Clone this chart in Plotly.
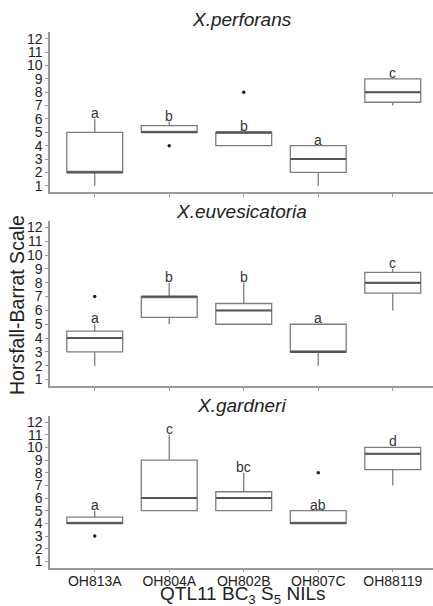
import plotly.graph_objects as go

categories = ["OH813A", "OH804A", "OH802B", "OH807C", "OH88119"]
panels = ["X.perforans", "X.euvesicatoria", "X.gardneri"]

# per panel: q1, median, q3, lower whisker, upper whisker
q1 = [[2, 5, 4, 2, 7.25], [3, 5.5, 5, 3, 7.25], [4, 5, 5, 4, 8.25]]
med = [[2, 5, 5, 3, 8], [4, 7, 6, 3, 8], [4, 6, 6, 4, 9.5]]
q3 = [[5, 5.5, 5, 4, 9], [4.5, 7, 6.5, 5, 8.75], [4.5, 9, 6.5, 5, 10]]
lo = [[1, 5, 4, 1, 7], [2, 5, 5, 2, 6], [4, 5, 5, 4, 7]]
hi = [[6, 5.8, 5, 4, 9], [5, 8, 8, 5, 9], [5, 11, 8, 5, 10]]
# outliers: (category index, value)
outliers = [[(1, 4), (2, 8)], [(0, 7)], [(0, 3), (3, 8)]]
letters = [["a", "b", "b", "a", "c"], ["a", "b", "b", "a", "c"], ["a", "c", "bc", "ab", "d"]]

yticks = list(range(1, 13))

H = 606.0
def py(px):
    return 1 - px / H

domains = [[py(191.7), py(30.3)], [py(387), py(220)], [py(569.4), py(416.6)]]
title_px = [18, 211, 406]

FONT = "Liberation Sans, Arial, sans-serif"
AX = "#9a9a9a"
BOXW = 0.75

fig = go.Figure()
idx = list(range(len(categories)))
for p in range(3):
    xa = "x" if p == 0 else f"x{p+1}"
    ya = "y" if p == 0 else f"y{p+1}"
    fig.add_trace(go.Box(
        x=idx, q1=q1[p], median=med[p], q3=q3[p],
        lowerfence=lo[p], upperfence=hi[p],
        width=BOXW, fillcolor="white",
        line=dict(color="#7d7d7d", width=1.3),
        whiskerwidth=0, boxpoints=False, showlegend=False,
        xaxis=xa, yaxis=ya, hoverinfo="skip",
    ))
    # darker median lines
    mx, my = [], []
    for i, m in zip(idx, med[p]):
        mx += [i - BOXW / 2, i + BOXW / 2, None]
        my += [m, m, None]
    fig.add_trace(go.Scatter(x=mx, y=my, mode="lines",
                             line=dict(color="#555555", width=2),
                             showlegend=False, xaxis=xa, yaxis=ya, hoverinfo="skip"))
    if outliers[p]:
        fig.add_trace(go.Scatter(x=[o[0] for o in outliers[p]], y=[o[1] for o in outliers[p]],
                                 mode="markers", marker=dict(color="#222222", size=3.5),
                                 showlegend=False, xaxis=xa, yaxis=ya, hoverinfo="skip"))
    for i, (lt, h) in enumerate(zip(letters[p], hi[p])):
        fig.add_annotation(x=i, y=h, xref=xa, yref=ya, text=lt, showarrow=False,
                           yanchor="bottom", yshift=-4,
                           font=dict(family=FONT, size=14, color="#333333"))
    fig.add_annotation(x=0.5 * (0.1155 + 1), y=py(title_px[p]), xref="paper", yref="paper",
                       text=f"<i>{panels[p]}</i>", showarrow=False,
                       xanchor="center", yanchor="middle",
                       font=dict(family=FONT, size=19, color="#222222"))

    xkey = "xaxis" if p == 0 else f"xaxis{p+1}"
    ykey = "yaxis" if p == 0 else f"yaxis{p+1}"
    xaxis_cfg = dict(domain=[0.1155, 1], range=[-0.6, 4.54], anchor=ya,
                     tickvals=idx, showticklabels=(p == 2),
                     ticks="outside", ticklen=3, tickcolor=AX,
                     showline=True, linecolor=AX, linewidth=1.5, showgrid=False,
                     zeroline=False,
                     tickfont=dict(family=FONT, size=14, color="#222222"))
    if p == 2:
        xaxis_cfg["ticktext"] = categories
        xaxis_cfg["ticklabelstandoff"] = -3
    fig.update_layout(**{
        xkey: xaxis_cfg,
        ykey: dict(domain=domains[p], range=[0.5, 12.5], anchor=xa,
                   tickvals=yticks, ticks="outside", ticklen=3, tickcolor=AX,
                   showline=True, linecolor=AX, linewidth=1.5, showgrid=False,
                   zeroline=False,
                   tickfont=dict(family=FONT, size=14, color="#222222")),
    })

fig.add_annotation(x=242 / 433.0, y=0, xref="paper", yref="paper",
                   text="QTL11 BC<sub>3</sub> S<sub>5</sub> NILs", showarrow=False,
                   xanchor="center", yanchor="bottom", yshift=-5,
                   font=dict(family=FONT, size=19, color="#222222"))
fig.add_annotation(x=17 / 433.0, y=py(305), xref="paper", yref="paper",
                   text="Horsfall-Barrat Scale", showarrow=False, textangle=-90,
                   xanchor="center", yanchor="middle",
                   font=dict(family=FONT, size=19.5, color="#222222"))

fig.update_layout(width=433, height=606, margin=dict(l=0, r=0, t=0, b=0),
                  paper_bgcolor="white", plot_bgcolor="white")
fig.write_html("out.html", config={"displayModeBar": False},
               post_script="document.body.style.margin='0';document.body.style.overflow='hidden';")
